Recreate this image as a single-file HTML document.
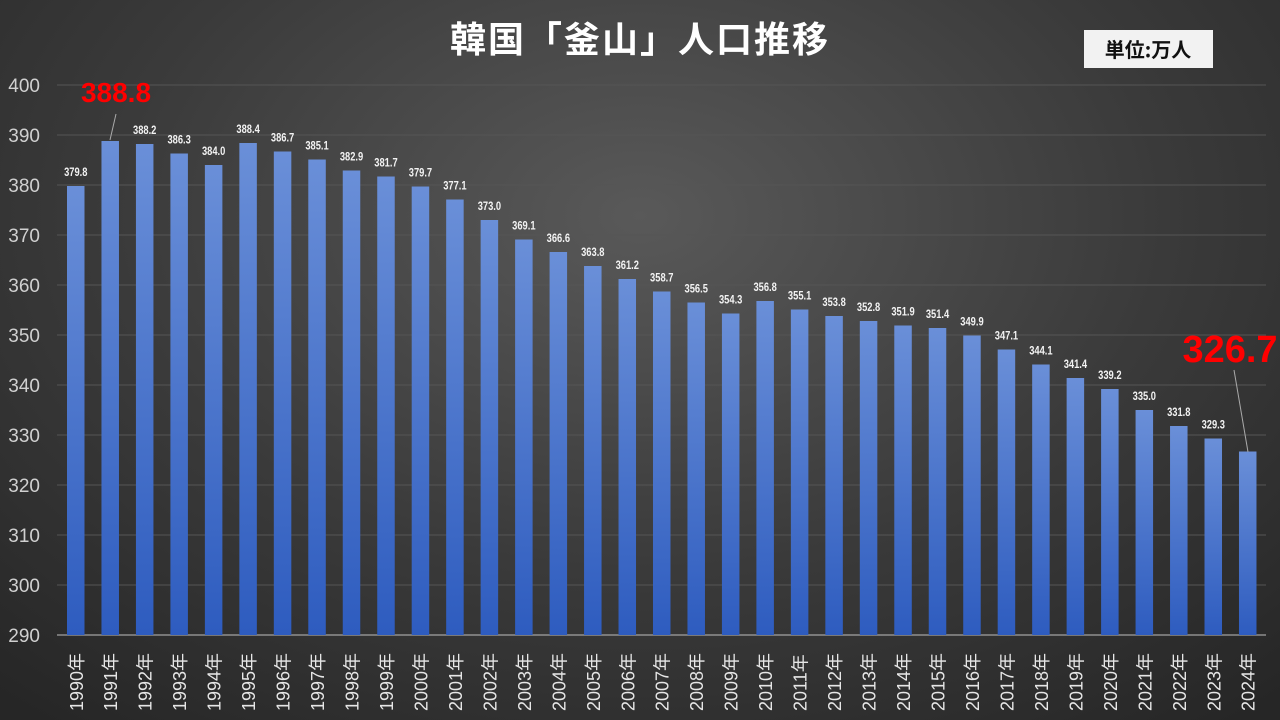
<!DOCTYPE html>
<html><head><meta charset="utf-8"><style>
html,body{margin:0;padding:0}
body{width:1280px;height:720px;overflow:hidden;background:radial-gradient(ellipse 75% 90% at 50% 30%,#595959 0%,#3a3a3a 55%,#262626 100%);font-family:"Liberation Sans","Noto Sans CJK JP",sans-serif}
</style></head><body>
<svg width="1280" height="720" xmlns="http://www.w3.org/2000/svg" style="position:absolute;left:0;top:0">
<defs><linearGradient id="g" x1="0" y1="0" x2="0" y2="1"><stop offset="0" stop-color="#6a8fd8"/><stop offset="1" stop-color="#2e5cbf"/></linearGradient></defs>
<text x="640" y="52" text-anchor="middle" font-size="36" font-weight="bold" fill="#fff" letter-spacing="2" font-family="Noto Sans CJK JP,sans-serif">韓国「釜山」人口推移</text>
<rect x="1084" y="30" width="129" height="38" fill="#f2f2f2"/>
<text x="1148" y="57" text-anchor="middle" font-size="20" font-weight="bold" fill="#111" font-family="Noto Sans CJK JP,sans-serif">単位:万人</text>
</svg>
<script>
var v=[379.8,388.8,388.2,386.3,384.0,388.4,386.7,385.1,382.9,381.7,379.7,377.1,373.0,369.1,366.6,363.8,361.2,358.7,356.5,354.3,356.8,355.1,353.8,352.8,351.9,351.4,349.9,347.1,344.1,341.4,339.2,335.0,331.8,329.3,326.7];
var ns="http://www.w3.org/2000/svg",svg=document.querySelector('svg');
function el(t,a,txt){var e=document.createElementNS(ns,t);for(var k in a)e.setAttribute(k,a[k]);if(txt!=null)e.textContent=txt;svg.appendChild(e);return e;}
function Y(x){return 635-(x-290)*5;}
for(var t=290;t<=400;t+=10){var y=Y(t);if(t>290)el('line',{x1:57,x2:1266,y1:y,y2:y,stroke:'#555555'});
el('text',{x:40,y:y+7,'text-anchor':'end','font-size':19,fill:'#d0d0d0'},t);}
el('line',{x1:57,x2:1266,y1:635,y2:635,stroke:'#bfbfbf'});
for(var i=0;i<v.length;i++){var x=67+i*34.47,y=Y(v[i]),c=x+8.75;
el('rect',{x:x,y:y,width:17.5,height:635-y,fill:'url(#g)'});
if(i!=1&&i!=34)el('text',{x:0,y:0,transform:'translate('+c+','+(y-10)+') scale(0.85,1.1)','text-anchor':'middle','font-size':11,'font-weight':'bold',fill:'#f2f2f2'},v[i].toFixed(1));
var yr=(1990+i)+'年';
el('text',{x:0,y:0,transform:'translate('+(c+7)+',711) rotate(-90)','font-size':18,fill:'#e6e6e6'},yr);}
el('line',{x1:116,y1:114,x2:110,y2:140,stroke:'#aaa'});
el('text',{x:116,y:102,'text-anchor':'middle','font-size':28,'font-weight':'bold',fill:'#ff0000'},'388.8');
el('line',{x1:1234,y1:370,x2:1248,y2:452,stroke:'#aaa'});
el('text',{x:1230,y:362,'text-anchor':'middle','font-size':38,'font-weight':'bold',fill:'#ff0000'},'326.7');
</script>
</body></html>
